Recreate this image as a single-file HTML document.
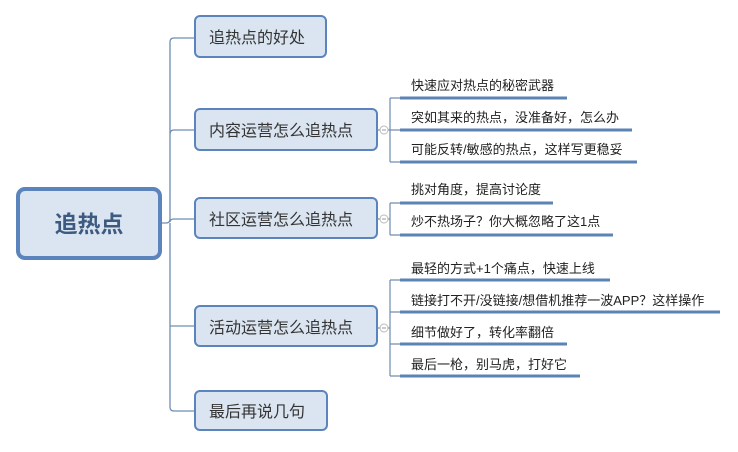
<!DOCTYPE html>
<html><head><meta charset="utf-8"><style>
html,body{margin:0;padding:0;background:#fff;}
svg text{font-family:"Liberation Sans","Noto Sans CJK SC",sans-serif;}
</style></head><body>
<svg width="738" height="447" viewBox="0 0 738 447" xmlns="http://www.w3.org/2000/svg">
<g fill="none" stroke="#6f8db5" stroke-width="1.3">
<path d="M160 223 H166 Q170 223 170 219 V42 Q170 38 174 38 H195"/>
<path d="M170 134 Q170 130 174 130 H195"/>
<path d="M170 222 Q170 219 174 219 H195"/>
<path d="M170 326 H195"/>
<path d="M170 223 V407 Q170 411 174 411 H195"/>
</g>
<g fill="#dbe5f1" stroke="#5b84bd" stroke-width="2">
<rect x="18" y="189" width="142" height="69" rx="7" stroke-width="4"/>
<rect x="195" y="16" width="131" height="41" rx="5"/>
<rect x="195" y="109" width="182" height="41" rx="5"/>
<rect x="195" y="198" width="182" height="40" rx="5"/>
<rect x="195" y="306" width="182" height="40" rx="5"/>
<rect x="195" y="391" width="132" height="39" rx="5"/>
</g>
<text x="89" y="232" font-size="23" font-weight="bold" fill="#3d5a80" text-anchor="middle">追热点</text>
<g font-size="16" fill="#333">
<text x="209" y="43">追热点的好处</text>
<text x="209" y="136">内容运营怎么追热点</text>
<text x="209" y="225">社区运营怎么追热点</text>
<text x="209" y="333">活动运营怎么追热点</text>
<text x="209" y="417">最后再说几句</text>
</g>
<g fill="none" stroke="#6f8db5" stroke-width="1.2">
<path d="M377 130 H380 M388 130 H390 M390 98 V162 M390 98 H400 M390 130 H400 M390 162 H400"/>
<path d="M377 219 H380 M388 219 H390 M390 203 V235 M390 203 H400 M390 235 H400"/>
<path d="M377 328 H380 M388 328 H390 M390 280 V376 M390 280 H400 M390 312 H400 M390 344 H400 M390 376 H400"/>
</g>
<g fill="#fff" stroke="#bbb" stroke-width="1">
<circle cx="384" cy="130" r="4"/><circle cx="384" cy="219" r="4"/><circle cx="384" cy="328" r="4"/>
</g>
<g stroke="#999" stroke-width="1"><path d="M382 130 H386 M382 219 H386 M382 328 H386"/></g>
<g stroke="#5b84b5" stroke-width="3">
<path d="M400 98 H567 M400 130 H632 M400 162 H637"/>
<path d="M400 203 H553 M400 235 H613"/>
<path d="M400 280 H610 M400 312 H720 M400 344 H567 M400 376 H580"/>
</g>
<g font-size="13" fill="#222">
<text x="411" y="90">快速应对热点的秘密武器</text>
<text x="411" y="122">突如其来的热点，没准备好，怎么办</text>
<text x="411" y="154">可能反转/敏感的热点，这样写更稳妥</text>
<text x="411" y="194">挑对角度，提高讨论度</text>
<text x="411" y="226">炒不热场子？你大概忽略了这1点</text>
<text x="411" y="273">最轻的方式+1个痛点，快速上线</text>
<text x="411" y="305">链接打不开/没链接/想借机推荐一波APP？这样操作</text>
<text x="411" y="337">细节做好了，转化率翻倍</text>
<text x="411" y="369">最后一枪，别马虎，打好它</text>
</g>
</svg>
</body></html>
